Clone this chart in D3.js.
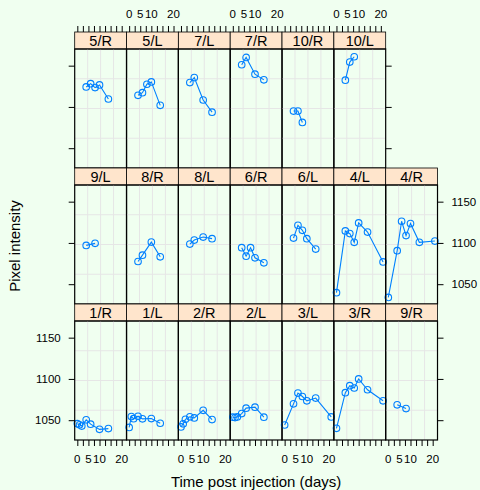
<!DOCTYPE html>
<html>
<head>
<meta charset="utf-8">
<script src="https://cdn.jsdelivr.net/npm/d3@7"></script>
<style>
  body { margin: 0; background: #f0fff0; }
  text { font-family: "Liberation Sans", Arial, sans-serif; fill: #000; }
</style>
</head>
<body>
<div id="chart"></div>
<script>
// panel layout, top row first
const rowTop    = ["5/R", "5/L", "7/L", "7/R", "10/R", "10/L"];
const rowMiddle = ["9/L", "8/R", "8/L", "6/R", "6/L", "4/L", "4/R"];
const rowBottom = ["1/R", "1/L", "2/R", "2/L", "3/L", "3/R", "9/R"];

// days and pixel intensity per dog/side
const panelNames = ["1/R", "1/L", "2/R", "2/L", "3/L", "3/R", "9/R",
                    "9/L", "8/R", "8/L", "6/R", "6/L", "4/L", "4/R",
                    "5/R", "5/L", "7/L", "7/R", "10/R", "10/L"];
const panelDays = [
  [0, 1, 2, 4, 6, 10, 14],
  [0, 1, 2, 4, 6, 10, 14],
  [0, 1, 2, 4, 6, 10, 14],
  [0, 1, 2, 4, 6, 10, 14],
  [0, 4, 6, 8, 10, 14, 21],
  [0, 4, 6, 8, 10, 14, 21],
  [4, 8],
  [4, 8],
  [4, 6, 10, 14],
  [4, 6, 10, 14],
  [4, 6, 8, 10, 14],
  [4, 6, 8, 10, 14],
  [0, 4, 6, 8, 10, 14, 21],
  [0, 4, 6, 8, 10, 14, 21],
  [4, 6, 8, 10, 14],
  [4, 6, 8, 10, 14],
  [4, 6, 10, 14],
  [4, 6, 10, 14],
  [4, 6, 8],
  [4, 6, 8]
];
const panelPixel = [
  [1045.8, 1044.5, 1042.9, 1050.4, 1045.2, 1038.9, 1039.8],
  [1041.2, 1054.4, 1051.8, 1054.8, 1051.6, 1052.0, 1046.3],
  [1041.8, 1045.6, 1051.0, 1054.1, 1052.7, 1062.0, 1050.8],
  [1053.6, 1053.2, 1054.0, 1058.0, 1064.6, 1065.8, 1053.6],
  [1044.2, 1069.8, 1082.9, 1078.7, 1073.5, 1076.8, 1054.0],
  [1040.2, 1083.3, 1091.8, 1089.0, 1100.0, 1086.9, 1073.5],
  [1068.6, 1064.1],
  [1097.0, 1099.5],
  [1077.5, 1085.2, 1101.0, 1083.2],
  [1098.6, 1103.5, 1107.1, 1105.2],
  [1094.2, 1084.0, 1094.2, 1082.0, 1075.9],
  [1105.9, 1121.4, 1115.3, 1105.2, 1092.5],
  [1039.7, 1114.5, 1111.3, 1100.7, 1124.2, 1113.2, 1077.0],
  [1034.0, 1090.6, 1126.3, 1108.9, 1123.5, 1100.7, 1102.3],
  [1124.2, 1128.2, 1123.4, 1126.7, 1109.6],
  [1114.1, 1117.3, 1127.5, 1130.3, 1101.9],
  [1129.5, 1135.6, 1108.4, 1093.7],
  [1151.1, 1160.0, 1139.7, 1132.8],
  [1095.0, 1095.0, 1081.2],
  [1132.4, 1154.3, 1160.8]
];

const xTicks = [0, 2.5, 5, 7.5, 10, 12.5, 15, 17.5, 20];
const xLabels = [0, 5, 10, 20];
const yTicks = [1050, 1100, 1150];

const W = 480, H = 490;
const padL = 74.7, padT = 32, pw = 51.83, stripH = 17, rowH = 136;
const ph = rowH - stripH;
const rows = [rowTop, rowMiddle, rowBottom];

const svg = d3.select("#chart").append("svg")
    .attr("width", W)
    .attr("height", H);

svg.append("rect").attr("width", W).attr("height", H).attr("fill", "#f0fff0");

const x = d3.scaleLinear().domain([-1.18, 22.18]).range([0, pw]);
const y = d3.scaleLinear().domain([1026, 1170.2]).range([ph, 0]);

const line = d3.line().x(d => x(d[0])).y(d => y(d[1]));

rows.forEach((names, r) => {
  names.forEach((name, c) => {
    const g = svg.append("g")
        .attr("transform", `translate(${padL + c * pw},${padT + r * rowH})`);

    // strip
    g.append("rect")
        .attr("width", pw).attr("height", stripH)
        .attr("fill", "#ffe5cc").attr("stroke", "#000").attr("stroke-width", 0.8);
    g.append("text")
        .attr("x", pw / 2).attr("y", stripH / 2 + 5)
        .attr("text-anchor", "middle")
        .attr("font-size", 14.5)
        .text(name);

    const p = g.append("g").attr("transform", `translate(0,${stripH})`);

    // grid: quarters of the panel
    [0.25, 0.5, 0.75].forEach(f => {
      p.append("line").attr("x1", f * pw).attr("x2", f * pw)
          .attr("y1", 0).attr("y2", ph)
          .attr("stroke", "#e6e6e6").attr("stroke-width", 1);
      p.append("line").attr("x1", 0).attr("x2", pw)
          .attr("y1", f * ph).attr("y2", f * ph)
          .attr("stroke", "#e6e6e6").attr("stroke-width", 1);
    });

    const i = panelNames.indexOf(name);
    const pts = panelDays[i].map((d, k) => [d, panelPixel[i][k]]);

    p.append("path")
        .attr("d", line(pts))
        .attr("fill", "none")
        .attr("stroke", "#0080ff")
        .attr("stroke-width", 1.1);

    p.selectAll("circle")
        .data(pts)
        .enter()
        .append("circle")
        .attr("cx", d => x(d[0]))
        .attr("cy", d => y(d[1]))
        .attr("r", 3.3)
        .attr("fill", "none")
        .attr("stroke", "#0080ff")
        .attr("stroke-width", 1.1);

    p.append("rect")
        .attr("width", pw).attr("height", ph)
        .attr("fill", "none").attr("stroke", "#000").attr("stroke-width", 1.2);

    // top axis on the top row
    if (r === 0) {
      const ax = d3.axisTop(x).tickValues(xTicks).tickSize(6).tickFormat("");
      g.append("g").call(ax).call(s => s.select(".domain").remove());
      if (c % 2 === 1) {
        g.selectAll(".lab").data(xLabels).enter().append("text")
            .attr("x", d => x(d)).attr("y", -14)
            .attr("text-anchor", "middle").attr("font-size", 11.5)
            .text(d => d);
      }
    }
    // bottom axis on the bottom row
    if (r === 2) {
      const ax = d3.axisBottom(x).tickValues(xTicks).tickSize(6).tickFormat("");
      p.append("g").attr("transform", `translate(0,${ph})`)
          .call(ax).call(s => s.select(".domain").remove());
      if (c % 2 === 0) {
        p.selectAll(".lab").data(xLabels).enter().append("text")
            .attr("x", d => x(d)).attr("y", ph + 23)
            .attr("text-anchor", "middle").attr("font-size", 11.5)
            .text(d => d);
      }
    }
    // left axis
    if (c === 0) {
      const ay = d3.axisLeft(y).tickValues(yTicks).tickSize(6)
          .tickFormat(r === 2 ? d3.format("d") : "");
      p.append("g").call(ay).call(s => s.select(".domain").remove())
          .selectAll("text").attr("font-size", 11.5).attr("x", -14)
          .attr("font-family", null);
    }
    // right axis
    if (c === names.length - 1) {
      const ay = d3.axisRight(y).tickValues(yTicks).tickSize(6)
          .tickFormat(r === 1 ? d3.format("d") : "");
      p.append("g").attr("transform", `translate(${pw},0)`)
          .call(ay).call(s => s.select(".domain").remove())
          .selectAll("text").attr("font-size", 11.5).attr("x", 14)
          .attr("font-family", null);
    }
  });
});

svg.selectAll(".tick line").attr("stroke", "#000");

// axis titles
svg.append("text")
    .attr("transform", "translate(20,246) rotate(-90)")
    .attr("text-anchor", "middle")
    .attr("font-size", 15)
    .text("Pixel intensity");

svg.append("text")
    .attr("x", padL + 3.5 * pw).attr("y", 487)
    .attr("text-anchor", "middle")
    .attr("font-size", 15)
    .text("Time post injection (days)");
</script>
</body>
</html>
